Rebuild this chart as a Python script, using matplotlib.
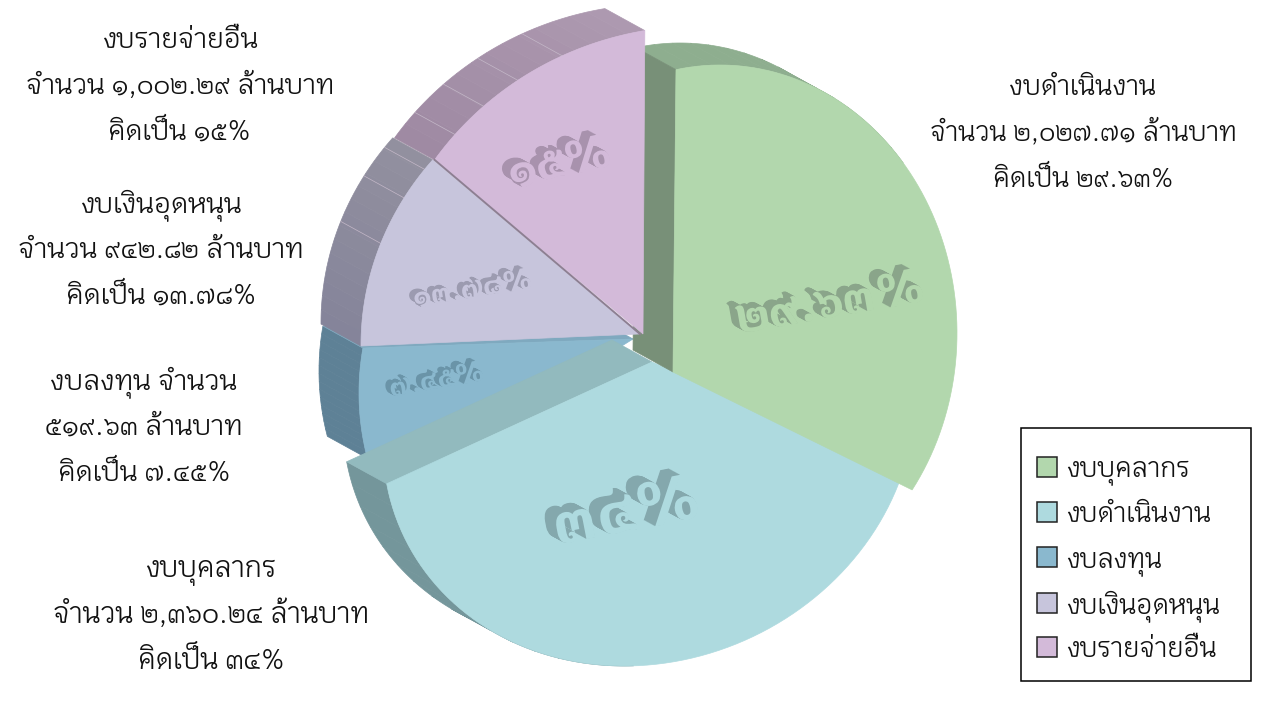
import numpy as np
import matplotlib
matplotlib.use('Agg')
import matplotlib.pyplot as plt
from matplotlib.patches import Polygon, Rectangle
import matplotlib.patheffects as pe

# datos del grafico (orden de las porciones, en sentido horario)
porcentajes = [29.63, 34, 7.45, 13.78, 15]
etiquetas_pct = ['๒๙.๖๓%', '๓๔%', '๗.๔๕%', '๑๓.๗๘%', '๑๕%']
leyenda = ['งบบุคลากร', 'งบดำเนินงาน', 'งบลงทุน', 'งบเงินอุดหนุน', 'งบรายจ่ายอื่น']
textos = [
    ['งบดำเนินงาน', 'จำนวน ๒,๐๒๗.๗๑ ล้านบาท', 'คิดเป็น ๒๙.๖๓%'],
    ['งบรายจ่ายอื่น', 'จำนวน ๑,๐๐๒.๒๙ ล้านบาท', 'คิดเป็น ๑๕%'],
    ['งบเงินอุดหนุน', 'จำนวน ๙๔๒.๘๒ ล้านบาท', 'คิดเป็น ๑๓.๗๘%'],
    ['งบลงทุน จำนวน', '๕๑๙.๖๓ ล้านบาท', 'คิดเป็น ๗.๔๕%'],
    ['งบบุคลากร', 'จำนวน ๒,๓๖๐.๒๔ ล้านบาท', 'คิดเป็น ๓๔%'],
]

# colores
cara = ['#b2d7ad', '#aedadf', '#8ab8ce', '#c7c5dc', '#d3bad9']
pared_a = ['#8eae8f', '#74969b', '#5e8196', '#85849a', '#9f8aa3']
pared_b = ['#8eae8f', '#74969b', '#5e8196', '#92909f', '#ad99b0']
borde_letra = ['#8aa58a', '#84a8ad', '#6a94a8', '#9c9bb0', '#a892ad']

# geometria: elipse de cada porcion, vertice y escorzo de la perspectiva
elipse = [(720, 333, 237, 268, 0), (649, 420, 265, 246, 0.1), (640, 393, 281, 270, 0),
          (680, 345, 319, 293, 0), (700, 340, 324, 314, 0)]
vertice = [(673, 372), (652, 362), (633, 339), (639, 334), (643, 334)]
t_inicio = [100.7, -11, 202.6, 180.2, 145]
escorzo = [1.28, 1.258, 1.2, 0.794, 0.837]
pared_desde = [0, 0.5, 0.267, 0, 0]
pared_hasta = [0.45, 1, 1, 1, 1]
costuras = [[], [], [], [0.52, 0.77, 0.94], [0.13, 0.29, 0.46, 0.66]]
prof = np.array([-40, -22])

pos_pct = [(831, 304), (627, 513), (437, 380), (473, 289), (560, 163)]
tam_pct = [35, 46, 21, 21.5, 34]
rot_pct = [10, 11, 10, 9, 12]

pos_textos = [(1083, 95), (180, 48), (161, 212), (144, 389), (211, 577)]
tam_textos = [19.3, 19.8, 20, 20, 20.2]
x_leyenda = 1037
y_leyenda = [457, 502, 547, 593, 637]

FUENTE = 'Krub'

fig = plt.figure(figsize=(12.65, 7.05), dpi=100)
ax = fig.add_axes([0, 0, 1, 1])
ax.set_xlim(0, 1265)
ax.set_ylim(705, 0)
ax.axis('off')


def arco(i, fr0=0.0, fr1=1.0, n=80):
    # puntos del borde exterior de la porcion i, sacados de su porcentaje
    cx, cy, rx, ry, s = elipse[i]
    barrido = porcentajes[i] * 3.6 * escorzo[i]
    t = np.radians(t_inicio[i] - barrido * np.linspace(fr0, fr1, n))
    return np.column_stack([cx + rx * np.cos(t) + s * ry * np.sin(t), cy - ry * np.sin(t)])


def mezcla(c0, c1, f):
    a = np.array(matplotlib.colors.to_rgb(c0))
    b = np.array(matplotlib.colors.to_rgb(c1))
    return a + (b - a) * f


def pared_exterior(i, z):
    n = 14
    cortes = np.linspace(pared_desde[i], pared_hasta[i], n + 1)
    for k in range(n):
        p = arco(i, cortes[k], cortes[k + 1], 12)
        col = mezcla(pared_a[i], pared_b[i], k / (n - 1))
        ax.add_patch(Polygon(np.vstack([p, (p + prof)[::-1]]), closed=True, fc=col, ec=col, lw=0.5, zorder=z))
    for fr in costuras[i]:
        p = arco(i, fr, fr, 1)[0]
        ax.plot([p[0], p[0] + prof[0]], [p[1], p[1] + prof[1]], color='#c4b8c8', lw=0.5, zorder=z + 0.1)


def pared_radial(i, fr, col, z):
    p = arco(i, fr, fr, 1)[0]
    v = np.array(vertice[i])
    ax.add_patch(Polygon([p, p + prof, v + prof, v], closed=True, fc=col, ec=col, lw=0.5, zorder=z))


def cara_superior(i, z):
    pts = np.vstack([[vertice[i]], arco(i)])
    ax.add_patch(Polygon(pts, closed=True, fc=cara[i], ec=cara[i], lw=0.5, zorder=z))


# se pinta de atras hacia delante
pared_exterior(2, 1)
pared_radial(2, 1, '#7fa9bf', 1.5)
cara_superior(2, 2)

pared_exterior(1, 3)
pared_radial(1, 1, '#92babe', 3.5)
cara_superior(1, 4)

pared_exterior(3, 5)
cara_superior(3, 6)
pared_exterior(4, 5)
cara_superior(4, 6)
p_rosa = arco(4, 0, 0, 1)[0]
ax.plot([p_rosa[0], vertice[4][0] - 3], [p_rosa[1], vertice[4][1]], color='#8d7f92', lw=1.4, zorder=6.5)

pared_exterior(0, 3.6)
pared_radial(0, 0, '#789078', 4.5)
cara_superior(0, 7)

# porcentajes en relieve sobre cada porcion
for i in range(5):
    efectos = []
    pasos = max(4, int(tam_pct[i] / 3))
    for k in range(pasos, 0, -1):
        efectos.append(pe.SimplePatchShadow(offset=(-0.55 * k, 0.3 * k), shadow_rgbFace=borde_letra[i], alpha=1, rho=1))
    efectos.append(pe.Normal())
    ax.text(pos_pct[i][0], pos_pct[i][1], etiquetas_pct[i], family=FUENTE, fontweight='bold', fontsize=tam_pct[i],
            color=cara[i], ha='center', va='center', rotation=rot_pct[i], rotation_mode='anchor',
            path_effects=efectos, zorder=10)

# textos de alrededor
for (x, y), lineas, tam in zip(pos_textos, textos, tam_textos):
    for j, linea in enumerate(lineas):
        ax.text(x, y + 46 * j, linea, family=FUENTE, fontsize=tam, color='#111111', ha='center', va='baseline', zorder=11)

# leyenda
ax.add_patch(Rectangle((1021, 428), 230, 253, fc='white', ec='black', lw=1.1, zorder=12))
for i in range(5):
    ax.add_patch(Rectangle((x_leyenda, y_leyenda[i]), 20, 19.5, fc=cara[i], ec='#222222', lw=1.1, zorder=13))
    ax.text(1066, y_leyenda[i] + 20, leyenda[i], family=FUENTE, fontsize=19, color='#111111', va='baseline', zorder=13)

fig.savefig('out.png', dpi=100)
